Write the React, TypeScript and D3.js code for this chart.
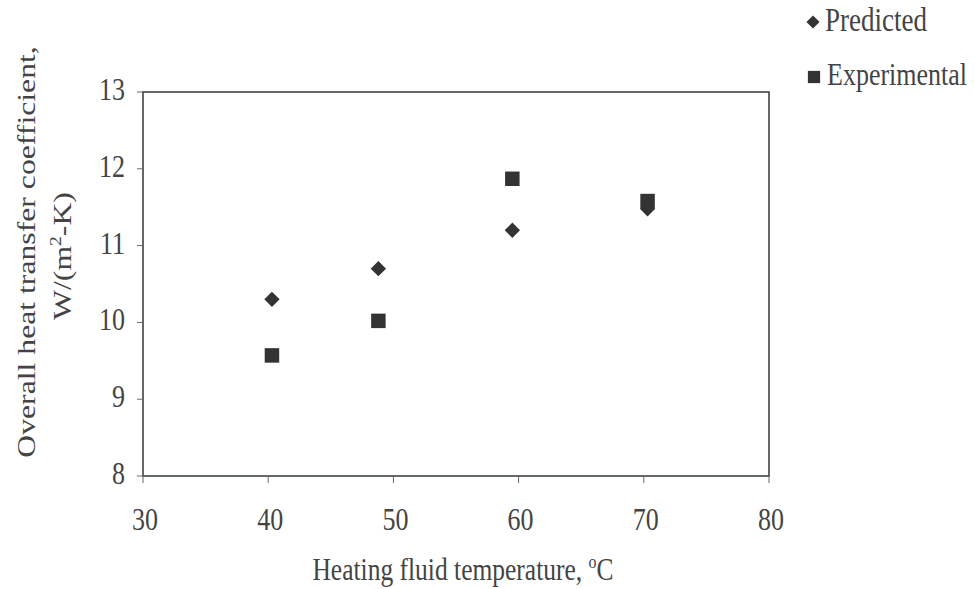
import React from "react";
import * as d3 from "d3";

const temps = [40.3, 48.8, 59.5, 70.3];
const predicted = [10.3, 10.7, 11.2, 11.48];
const experimental = [9.57, 10.02, 11.87, 11.58];
const xTicks = [30, 40, 50, 60, 70, 80];
const yTicks = [8, 9, 10, 11, 12, 13];

const W = 975;
const H = 589;
const M = { left: 143, right: 769, top: 92, bottom: 476 };
const FONT = "'Liberation Serif', 'Times New Roman', serif";
const INK = "#333";
const TXT = "#444";
const SY = 1.22;

function SText({ x, y, anchor = "start", size = 26, children }: any) {
  return (
    <g transform={`translate(${x},${y}) scale(1,${SY})`}>
      <text x={0} y={0} textAnchor={anchor} fontFamily={FONT} fontSize={size} fill={TXT}>
        {children}
      </text>
    </g>
  );
}

export default function App() {
  const x = d3.scaleLinear().domain([30, 80]).range([M.left, M.right]);
  const y = d3.scaleLinear().domain([8, 13]).range([M.bottom, M.top]);
  const diamond = d3.symbol().type(d3.symbolDiamond2).size(150)();
  const square = d3.symbol().type(d3.symbolSquare).size(210)();

  return (
    <svg width={W} height={H} style={{ position: "absolute", left: 0, top: 0, background: "#fff" }}>
      <rect x={0} y={0} width={W} height={H} fill="#fff" />
      {/* frame */}
      <rect x={M.left} y={M.top} width={M.right - M.left} height={M.bottom - M.top}
        fill="none" stroke="#3d443f" strokeWidth={1.6} />
      {/* y ticks */}
      {yTicks.map((t) => (
        <g key={"y" + t}>
          <line x1={M.left - 6} x2={M.left} y1={y(t)} y2={y(t)} stroke="#666" strokeWidth={1} />
          <SText x={M.left - 18} y={y(t) + 8} anchor="end">{t}</SText>
        </g>
      ))}
      {/* x ticks */}
      {xTicks.map((t) => (
        <g key={"x" + t}>
          <line x1={x(t)} x2={x(t)} y1={M.bottom} y2={M.bottom + 7} stroke="#666" strokeWidth={1} />
          <SText x={x(t) + 2} y={530} anchor="middle">{t}</SText>
        </g>
      ))}
      {/* axis titles */}
      <SText x={463} y={580} anchor="middle" size={25.5}>
        Heating fluid temperature, <tspan dy={-10} fontSize={16}>o</tspan><tspan dy={10}>C</tspan>
      </SText>
      <g transform={`translate(35,252) rotate(-90) scale(${SY},1)`}>
        <text x={0} y={0} textAnchor="middle" fontFamily={FONT} fontSize={26} fill={TXT}>
          Overall heat transfer coefficient,
        </text>
      </g>
      <g transform={`translate(71,256) rotate(-90) scale(${SY},1)`}>
        <text x={0} y={0} textAnchor="middle" fontFamily={FONT} fontSize={26} fill={TXT}>
          W/(m<tspan dy={-10} fontSize={16}>2</tspan><tspan dy={10}>-K)</tspan>
        </text>
      </g>
      {/* data */}
      {temps.map((t, i) => (
        <path key={"e" + i} d={square!} transform={`translate(${x(t)},${y(experimental[i])})`} fill={INK} />
      ))}
      {temps.map((t, i) => (
        <path key={"p" + i} d={diamond!} transform={`translate(${x(t)},${y(predicted[i])})`} fill={INK} />
      ))}
      {/* legend */}
      <path d={d3.symbol().type(d3.symbolDiamond2).size(110)()!} transform="translate(813,22)" fill={INK} />
      <SText x={825} y={31} size={27}>Predicted</SText>
      <path d={d3.symbol().type(d3.symbolSquare).size(150)()!} transform="translate(814,77)" fill={INK} />
      <SText x={827} y={85} size={26}>Experimental</SText>
    </svg>
  );
}
